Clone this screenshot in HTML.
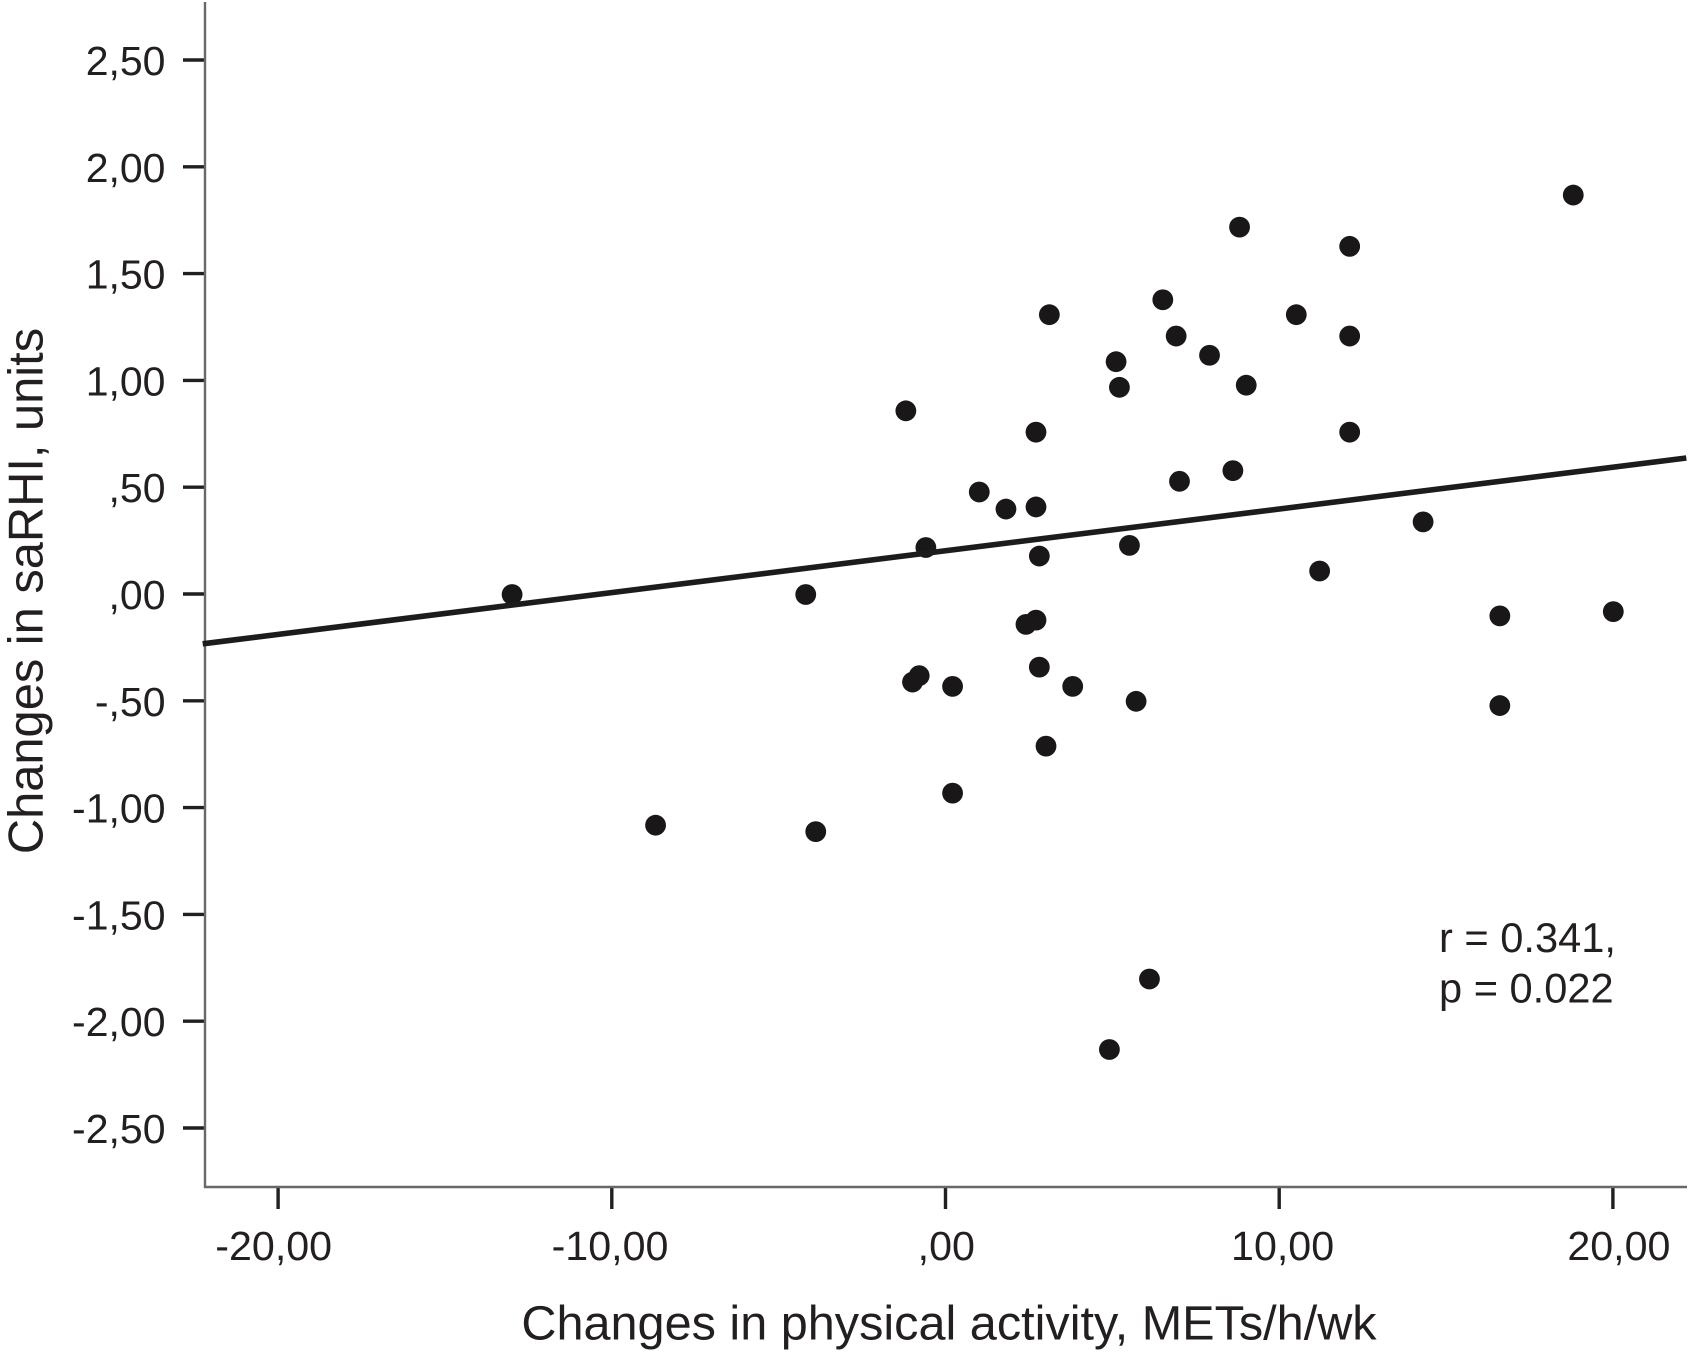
<!DOCTYPE html>
<html lang="en">
<head>
<meta charset="utf-8">
<title>Changes in saRHI vs physical activity</title>
<style>
html,body{margin:0;padding:0;background:#fff;width:1688px;height:1362px;overflow:hidden}
svg{display:block}
text{font-family:"Liberation Sans",Arial,sans-serif;fill:#231f20}
</style>
</head>
<body>
<svg id="chart" width="1688" height="1362" viewBox="0 0 1688 1362" xmlns="http://www.w3.org/2000/svg">
  <rect x="0" y="0" width="1688" height="1362" fill="#fff"/>
  <g id="ticks"></g>
  <line x1="205" y1="2" x2="205" y2="1188" stroke="#66686c" stroke-width="2.4"/>
  <line x1="204" y1="1187" x2="1687" y2="1187" stroke="#66686c" stroke-width="2.4"/>
  <g id="points"></g>
  <line id="fit" stroke="#1c1c1c" stroke-width="5.6"/>
  <text x="949" y="1339.5" font-size="48.6" text-anchor="middle">Changes in physical activity, METs/h/wk</text>
  <text transform="translate(42.7,591) rotate(-90)" font-size="48.8" text-anchor="middle">Changes in saRHI, units</text>
  <text x="1439" y="952" font-size="41.6">r = 0.341,</text>
  <text x="1439" y="1002.5" font-size="41.6">p = 0.022</text>
</svg>
<script>
const yTickValues = [2.5, 2, 1.5, 1, 0.5, 0, -0.5, -1, -1.5, -2, -2.5];
const yTickLabels = ["2,50", "2,00", "1,50", "1,00", ",50", ",00", "-,50", "-1,00", "-1,50", "-2,00", "-2,50"];
const xTickValues = [-20, -10, 0, 10, 20];
const xTickLabels = ["-20,00", "-10,00", ",00", "10,00", "20,00"];
const activityChange = [-13, -4.2, -8.7, -3.9, -1.2, -0.6, -1.0, -0.8, 0.2, 0.2, 1.0, 1.8, 2.7, 2.7, 2.8, 2.4, 2.7, 2.8, 3.8, 3.0, 3.1, 5.1, 5.2, 5.5, 5.7, 6.1, 4.9, 6.5, 6.9, 7.9, 7.0, 8.6, 8.8, 9.0, 10.5, 11.2, 12.1, 12.1, 12.1, 14.3, 16.6, 16.6, 18.8, 20];
const sarhiChange = [0, 0, -1.08, -1.11, 0.86, 0.22, -0.41, -0.38, -0.43, -0.93, 0.48, 0.40, 0.76, 0.41, 0.18, -0.14, -0.12, -0.34, -0.43, -0.71, 1.31, 1.09, 0.97, 0.23, -0.50, -1.80, -2.13, 1.38, 1.21, 1.12, 0.53, 0.58, 1.72, 0.98, 1.31, 0.11, 1.63, 1.21, 0.76, 0.34, -0.10, -0.52, 1.87, -0.08];
const fitX = [-22.26, 22.2];
const fitY = [-0.23, 0.64];

const NS = 'http://www.w3.org/2000/svg';
function xScale(v) { return 945.5 + v * 33.37; }
function yScale(v) { return 594 - v * 213.6; }
function xLabelScale(v) { return 946.3 + v * 33.63; }

const ticksGroup = document.getElementById('ticks');
yTickValues.forEach(function (v, i) {
  const t = document.createElementNS(NS, 'line');
  
  
  t.setAttribute('x1', 183);
  t.setAttribute('x2', 205);
  t.setAttribute('y1', yScale(v));
  t.setAttribute('y2', yScale(v));
  t.setAttribute('stroke', '#231f20');
  t.setAttribute('stroke-width', 3.4);
  ticksGroup.appendChild(t);
  const l = document.createElementNS(NS, 'text');
  
  
  l.setAttribute('x', 165.5);
  l.setAttribute('y', yScale(v) + 15);
  l.setAttribute('font-size', 41);
  l.setAttribute('text-anchor', 'end');
  l.textContent = yTickLabels[i];
  ticksGroup.appendChild(l);
});
xTickValues.forEach(function (v, i) {
  const t = document.createElementNS(NS, 'line');
  
  
  t.setAttribute('x1', xScale(v));
  t.setAttribute('x2', xScale(v));
  t.setAttribute('y1', 1187);
  t.setAttribute('y2', 1209);
  t.setAttribute('stroke', '#231f20');
  t.setAttribute('stroke-width', 3.4);
  ticksGroup.appendChild(t);
  const l = document.createElementNS(NS, 'text');
  
  
  l.setAttribute('x', xLabelScale(v));
  l.setAttribute('y', 1260);
  l.setAttribute('font-size', 41.2);
  l.setAttribute('text-anchor', 'middle');
  l.textContent = xTickLabels[i];
  ticksGroup.appendChild(l);
});

const pointsGroup = document.getElementById('points');
activityChange.forEach(function (v, i) {
  const c = document.createElementNS(NS, 'circle');
  
  
  c.setAttribute('cx', xScale(v) + 0.4);
  c.setAttribute('cy', yScale(sarhiChange[i]) + 0.5);
  c.setAttribute('r', 10.4);
  c.setAttribute('fill', '#1a1718');
  pointsGroup.appendChild(c);
});

const fit = document.getElementById('fit');
fit.setAttribute('x1', xScale(fitX[0]));
fit.setAttribute('y1', yScale(fitY[0]) + 0.7);
fit.setAttribute('x2', xScale(fitX[1]));
fit.setAttribute('y2', yScale(fitY[1]) + 0.7);
</script>
</body>
</html>
